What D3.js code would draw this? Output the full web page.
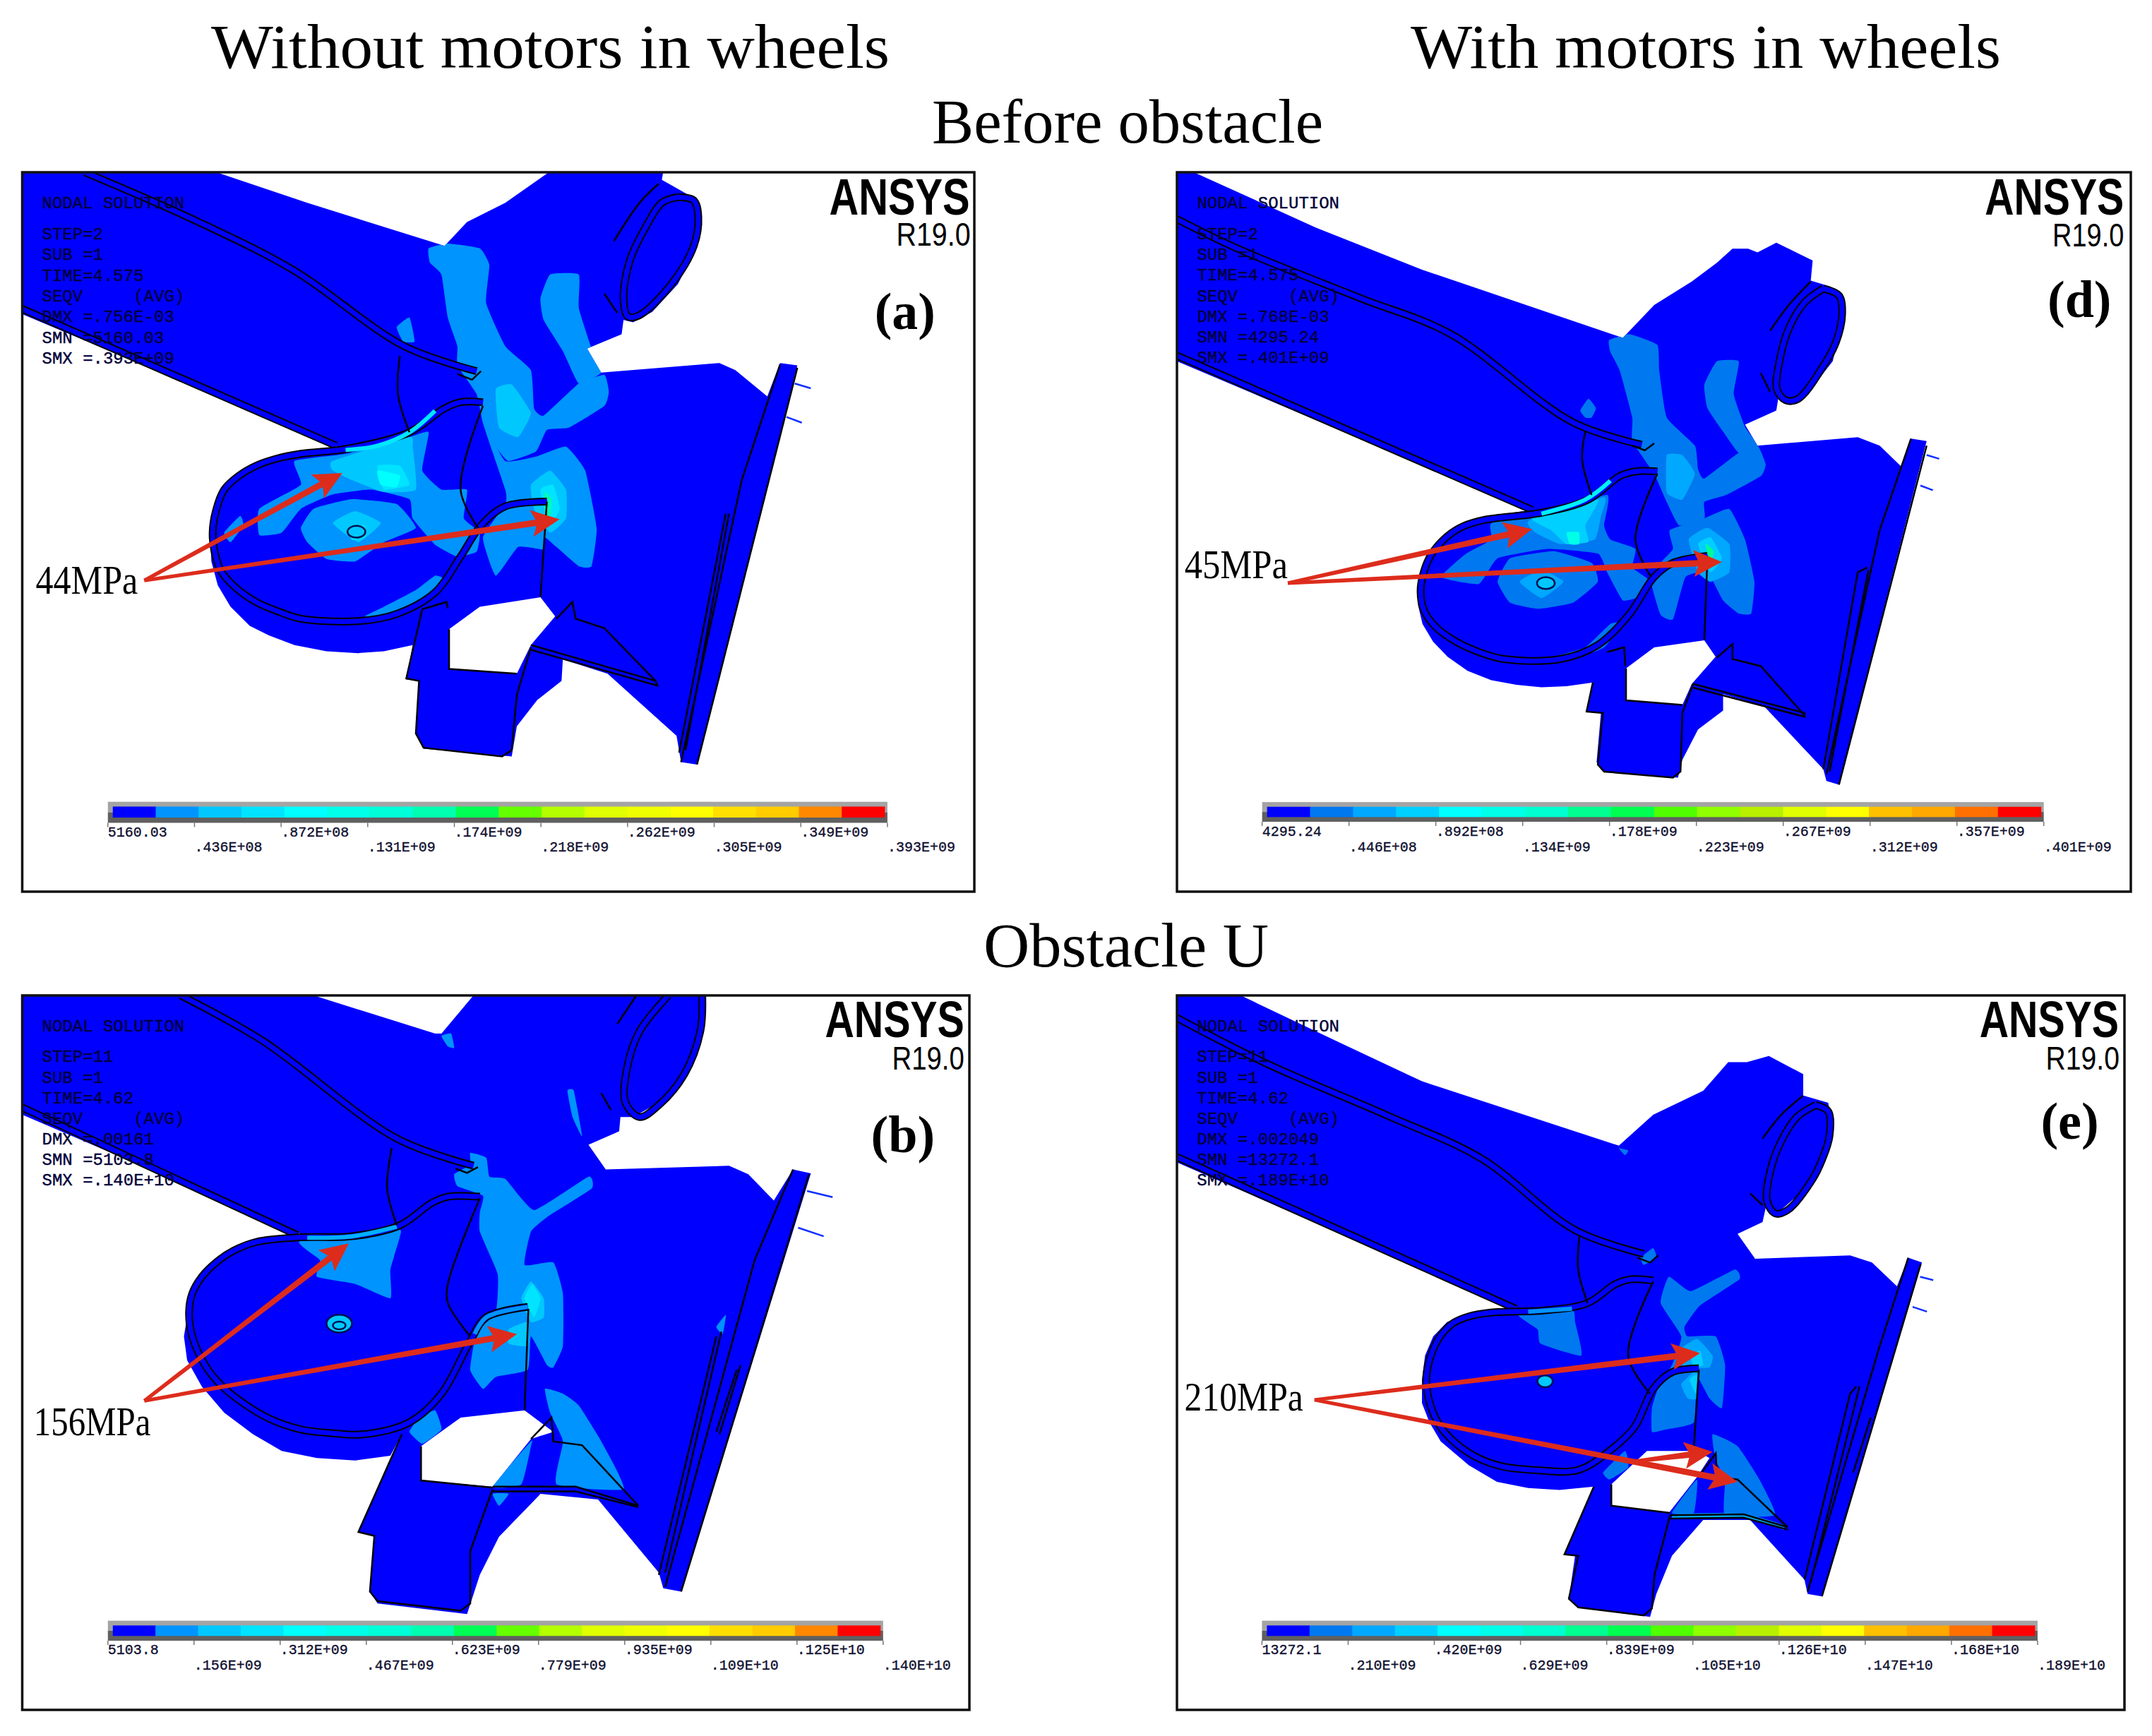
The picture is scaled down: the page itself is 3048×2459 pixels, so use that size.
<!DOCTYPE html>
<html>
<head>
<meta charset="utf-8">
<script src="https://cdn.jsdelivr.net/npm/d3@7"></script>
<style>
  html, body { margin: 0; padding: 0; background: #fff; }
  svg { display: block; }
</style>
</head>
<body>
<div id="chart"></div>
<script>
// legend
const legendColorsLeft = ["#0000ff","#0094ff","#00c8ff","#00e4ff","#00ffff","#00ffe8","#00ffd8","#00ffb0","#00ff55","#66ff00","#b4ff00","#e0ff00","#f0ff00","#ffff00","#ffdf00","#ffcc00","#ff8800","#ff0000"];
const legendColorsRight = ["#0000ff","#0078f0","#00a8ff","#00d0ff","#00ffff","#00ffe8","#00ffd0","#00ff90","#00ff50","#50ff00","#90ff00","#b8f000","#e0ff00","#ffff00","#ffc000","#ffa800","#ff7000","#ff0000"];
const aTicks = ["5160.03",".436E+08",".872E+08",".131E+09",".174E+09",".218E+09",".262E+09",".305E+09",".349E+09",".393E+09"];
const dTicks = ["4295.24",".446E+08",".892E+08",".134E+09",".178E+09",".223E+09",".267E+09",".312E+09",".357E+09",".401E+09"];
const bTicks = ["5103.8",".156E+09",".312E+09",".467E+09",".623E+09",".779E+09",".935E+09",".109E+10",".125E+10",".140E+10"];
const eTicks = ["13272.1",".210E+09",".420E+09",".629E+09",".839E+09",".105E+10",".126E+10",".147E+10",".168E+10",".189E+10"];

// solution text blocks
const aInfo = ["NODAL SOLUTION","STEP=2","SUB =1","TIME=4.575","SEQV     (AVG)","DMX =.756E-03","SMN =5160.03","SMX =.393E+09"];
const dInfo = ["NODAL SOLUTION","STEP=2","SUB =1","TIME=4.575","SEQV     (AVG)","DMX =.768E-03","SMN =4295.24","SMX =.401E+09"];
const bInfo = ["NODAL SOLUTION","STEP=11","SUB =1","TIME=4.62","SEQV     (AVG)","DMX =.00161","SMN =5103.8","SMX =.140E+10"];
const eInfo = ["NODAL SOLUTION","STEP=11","SUB =1","TIME=4.62","SEQV     (AVG)","DMX =.002049","SMN =13272.1","SMX =.189E+10"];

// panel a
const aBody = [[34,36],[338,36],[480,100],[695,190],[730,140],[790,100],[858,36],[1037,36],[1035,52],[1062,72],[1085,90],[1093,130],[1085,205],[1060,270],[1020,328],[990,350],[975,345],[972,375],[918,405],[940,455],[1125,435],[1150,450],[1200,505],[1220,435],[1247,440],[1090,1275],[1065,1270],[1058,1215],[950,1085],[880,1055],[878,1100],[840,1140],[808,1195],[800,1258],[662,1242],[650,1212],[655,1100],[635,1097],[645,1025],[600,1038],[560,1042],[510,1038],[460,1025],[420,1005],[390,985],[360,945],[340,900],[330,850],[328,790],[335,740],[350,700],[372,672],[400,650],[435,633],[470,625],[530,612],[34,333]];
const aHole = [[702,992],[750,945],[845,925],[868,965],[830,1025],[808,1085],[702,1075]];
const aBands = [
  [1,[[670,195],[700,185],[750,195],[765,230],[760,310],[790,400],[830,450],[835,530],[850,545],[905,478],[945,460],[952,495],[945,525],[890,570],[855,575],[838,620],[795,640],[775,610],[755,560],[745,500],[715,440],[715,400],[700,340],[690,250],[672,225]]],
  [1,[[845,300],[860,250],[905,250],[905,320],[925,405],[940,455],[905,478],[880,410],[850,345]]],
  [1,[[755,560],[790,640],[840,630],[885,610],[915,660],[933,780],[925,860],[905,860],[870,820],[852,800],[850,825],[810,820],[775,880],[755,800],[790,730],[790,700]]],
  [1,[[460,640],[540,625],[640,590],[670,580],[660,660],[690,700],[730,700],[725,760],[750,790],[745,830],[715,840],[680,815],[645,760],[640,720],[580,700],[520,710],[470,740],[440,790],[405,795],[405,740],[470,690]]],
  [1,[[470,780],[490,740],[550,720],[620,730],[650,780],[600,810],[555,850],[510,845],[480,810]]],
  [1,[[620,360],[640,340],[648,390],[630,390]]],
  [1,[[350,790],[375,755],[380,775],[360,810]]],
  [1,[[570,965],[600,945],[650,910],[680,880],[695,890],[650,950],[600,965]]],
  [2,[[520,640],[640,590],[645,610],[650,700],[600,705],[550,680],[520,660]]],
  [2,[[775,490],[800,480],[830,540],[810,590],[780,570]]],
  [2,[[830,690],[860,660],[885,700],[885,760],[860,790],[835,740]]],
  [2,[[520,770],[555,745],[595,770],[560,810]]],
  [3,[[590,650],[625,650],[640,690],[600,700]]],
  [3,[[545,780],[570,775],[570,800],[550,805]]],
  [3,[[845,700],[865,690],[875,740],[858,775]]],
  [4,[[590,660],[625,670],[620,695],[595,690]]],
  [7,[[852,705],[862,720],[860,760],[852,745]]]
];
const aDouble = [
  [[132,36],[310,140],[460,242],[632,400],[745,452]],
  [[34,322],[525,608]],
  [[755,517],[720,517],[695,530],[640,580],[540,615],[470,625],[430,636],[400,650],[372,672],[350,700],[337,745],[332,790],[335,830],[345,870],[368,905],[400,935],[435,955],[470,970],[560,975],[620,960],[680,915],[720,840],[752,775],[790,735],[855,725]],
  [[1060,88],[1085,95],[1092,130],[1085,190],[1050,270],[1000,335],[982,338],[975,300],[985,220],[1010,150],[1035,100],[1060,88]]
];
const aThin = [
  [[625,420],[622,500],[640,580]],
  [[755,525],[720,700],[750,785]],
  [[855,725],[845,925]],
  [[960,180],[1000,100],[1030,60]],
  [[945,290],[965,330]]
];
const aEdges = [
  [[715,458],[738,470],[752,452]],
  [[1220,438],[1160,680],[1065,1270]],
  [[1247,445],[1090,1275]],
  [[1135,750],[1062,1250]],
  [[1140,750],[1072,1245]],
  [[660,950],[635,1095],[655,1100],[650,1210],[662,1240],[785,1258],[800,1245],[808,1130],[830,1030]],
  [[660,950],[698,935],[700,948]],
  [[830,1025],[1025,1100],[1028,1110],[830,1035]],
  [[870,970],[895,935],[900,970],[945,990],[1025,1100]],
  [[702,992],[702,1075],[808,1085]]
];
const aGlow = [["#00e8ff",[[540,617],[590,608],[640,580],[680,535]]]];
const aStubs = [[[1243,478],[1268,488]],[[1230,548],[1254,560]]];
const aHub = [[557,788,14,12]];
const aArrows = [[[225,890],[535,665]],[[225,890],[875,762]]];

// panel d
const dBody = [[8,7],[35,7],[230,125],[400,215],[720,360],[770,290],[830,240],[870,200],[895,170],[920,170],[935,178],[965,157],[1000,180],[1023,195],[1020,238],[1050,250],[1068,275],[1070,330],[1055,410],[1020,470],[985,498],[968,490],[965,515],[915,545],[935,590],[1095,572],[1130,590],[1165,635],[1180,575],[1205,580],[1065,1313],[1045,1305],[1040,1280],[945,1145],[880,1120],[880,1155],[840,1195],[815,1260],[808,1298],[690,1285],[678,1265],[685,1160],[662,1157],[672,1095],[630,1103],[590,1105],[550,1100],[510,1090],[472,1070],[440,1040],[417,1008],[400,970],[393,930],[393,890],[403,850],[420,810],[442,780],[470,755],[515,738],[570,728],[8,410]];
const dHole = [[725,1065],[770,1020],[850,1005],[868,1040],[830,1098],[815,1143],[725,1133]];
const dBands = [
  [1,[[698,365],[730,352],[775,375],[778,430],[790,530],[835,590],[840,640],[850,660],[905,605],[935,590],[948,630],[940,655],[885,695],[850,710],[850,745],[810,760],[790,710],[770,650],[735,580],[735,530],[715,430],[700,390]]],
  [1,[[850,460],[870,410],[905,410],[897,480],[915,550],[935,590],[905,605],[880,560],[855,510]]],
  [1,[[850,745],[890,725],[915,790],[930,880],[925,948],[905,948],[880,920],[855,860],[820,870],[800,960],[780,950],[765,880],[780,840],[800,810],[795,770]]],
  [1,[[510,755],[590,735],[695,695],[690,760],[700,790],[740,810],[735,850],[760,875],[750,910],[720,920],[695,860],[680,820],[600,810],[520,830],[490,885],[430,870],[470,820],[510,790]]],
  [1,[[520,880],[540,830],[610,815],[670,840],[680,880],[640,925],[585,938],[540,925]]],
  [1,[[652,515],[665,490],[677,510],[670,530],[660,530]]],
  [1,[[610,1040],[660,1020],[700,970],[720,968],[690,1020],[640,1045]]],
  [2,[[570,750],[690,700],[685,740],[675,790],[620,800],[580,775]]],
  [2,[[790,610],[815,610],[835,650],[815,705],[790,690]]],
  [2,[[825,790],[855,765],[890,800],[890,860],[860,880],[840,860]]],
  [2,[[555,880],[590,855],[625,880],[590,915]]],
  [3,[[575,745],[680,705],[660,760],[665,795],[630,800],[605,770]]],
  [3,[[840,800],[860,785],[878,830],[860,860]]],
  [5,[[630,775],[650,775],[650,800],[635,800]]],
  [7,[[852,800],[865,815],[860,840]]]
];
const dDouble = [
  [[8,107],[100,167],[300,275],[445,352],[640,540],[750,588]],
  [[8,398],[575,727]],
  [[775,645],[740,645],[715,655],[665,705],[590,733],[500,748],[465,762],[440,783],[415,820],[402,860],[397,900],[402,940],[420,975],[450,1005],[490,1030],[530,1045],[620,1045],[680,1015],[730,950],[770,870],[800,840],[855,825]],
  [[1040,255],[1065,270],[1070,310],[1060,370],[1040,420],[1000,490],[980,493],[966,470],[970,410],[985,340],[1010,285],[1040,255]]
];
const dThin = [
  [[660,560],[655,620],[670,695]],
  [[775,650],[740,790],[765,870]],
  [[855,825],[850,1005]],
  [[955,345],[985,290],[1020,240]],
  [[940,435],[955,475]]
];
const dEdges = [
  [[735,590],[755,600],[770,585]],
  [[1180,575],[1130,770],[1045,1290]],
  [[1205,590],[1065,1313]],
  [[1110,850],[1095,860],[1040,1280]],
  [[1112,855],[1050,1285]],
  [[695,1030],[722,1020],[724,1060]],
  [[672,1095],[662,1157],[688,1160],[680,1270],[690,1285],[800,1298],[812,1285],[815,1160],[832,1098]],
  [[832,1098],[1010,1160],[1010,1168],[832,1106]],
  [[870,1042],[895,1013],[895,1045],[940,1060],[1010,1165]],
  [[725,1065],[725,1133],[815,1143]]
];
const dGlow = [["#00f0ff",[[590,735],[660,705],[700,665]]]];
const dStubs = [[[1205,610],[1225,618]],[[1195,675],[1215,685]]];
const dHub = [[597,883,14,12]];
const dArrows = [[[185,883],[575,768]],[[185,883],[878,838]]];

// panel b
const bBody = [[34,15],[490,15],[680,95],[690,95],[740,15],[1098,15],[1095,100],[1070,190],[1030,240],[990,270],[970,270],[968,300],[920,328],[947,380],[1140,372],[1170,390],[1210,445],[1240,380],[1268,388],[1065,1265],[1037,1258],[1030,1225],[935,1072],[845,1060],[780,1150],[750,1230],[730,1312],[590,1290],[578,1265],[585,1150],[560,1140],[628,935],[610,980],[555,990],[495,985],[440,970],[395,935],[350,890],[315,835],[292,780],[287,730],[295,665],[310,615],[340,570],[385,535],[430,522],[475,518],[34,265]];
const bHole = [[658,960],[720,900],[820,885],[865,930],[830,945],[770,1045],[658,1032]];
const bBands = [
  [1,[[468,530],[620,505],[625,520],[610,590],[610,650],[555,620],[495,605],[500,570]]],
  [1,[[735,345],[760,355],[765,395],[790,400],[835,465],[920,395],[925,420],[855,480],[830,510],[820,580],[865,575],[880,640],[880,750],[865,795],[855,790],[830,730],[825,800],[775,815],[755,840],[735,800],[745,720],[775,680],[778,600],[750,510],[750,470],[755,435],[715,415],[710,390],[735,370]]],
  [1,[[655,900],[680,885],[690,925],[660,955],[640,930]]],
  [1,[[852,840],[880,850],[905,875],[940,950],[975,1050],[870,1040],[880,950],[860,890]]],
  [1,[[830,950],[770,1045],[815,1040],[830,960]]],
  [1,[[770,1060],[795,1060],[780,1085]]],
  [1,[[887,215],[897,215],[910,310],[895,270]]],
  [1,[[690,100],[705,95],[710,125],[700,122]]],
  [1,[[1120,710],[1135,685],[1130,725]]],
  [2,[[815,650],[830,615],[850,650],[850,690],[830,700]]],
  [2,[[795,715],[825,700],[825,750],[795,745]]],
  [3,[[820,650],[832,620],[845,650],[835,690]]]
];
const bDouble = [
  [[282,15],[410,110],[620,315],[740,372]],
  [[34,250],[465,518]],
  [[750,437],[700,437],[675,450],[625,497],[550,520],[470,522],[400,532],[365,550],[340,572],[315,605],[300,640],[295,680],[300,730],[320,790],[345,832],[380,870],[420,902],[470,925],[520,933],[570,935],[640,910],[690,850],[735,740],[760,690],[825,668]],
  [[1045,15],[1000,90],[980,170],[978,240],[1000,270],[1030,245],[1070,180],[1095,90],[1098,15]]
];
const bThin = [
  [[612,335],[605,420],[620,497]],
  [[750,440],[700,620],[700,660],[735,730]],
  [[826,672],[820,885]],
  [[965,75],[995,15]],
  [[940,220],[955,255]]
];
const bEdges = [
  [[712,378],[730,387],[747,375]],
  [[1240,380],[1180,570],[1040,1255]],
  [[1265,390],[1065,1265]],
  [[1120,730],[1030,1230]],
  [[1128,720],[1040,1225]],
  [[1158,790],[1125,935]],
  [[1152,800],[1120,930]],
  [[628,935],[560,1140],[585,1148],[578,1265],[590,1285],[720,1305],[735,1290],[735,1180],[770,1050]],
  [[770,1045],[900,1045],[998,1085]],
  [[770,1055],[900,1055],[998,1088]],
  [[830,945],[862,900],[865,950],[910,958],[998,1085]],
  [[658,960],[658,1032],[770,1047]]
];
const bGlow = [["#00b0ff",[[480,523],[550,520],[620,500]]],["#0094ff",[[742,725],[760,690],[825,668]]]];
const bStubs = [[[1262,425],[1302,438]],[[1248,502],[1288,520]]];
const bHub = [[530,703,20,18],[530,707,10,8]];
const bArrows = [[[225,865],[545,535]],[[225,865],[808,725]]];

// panel e
const eBody = [[8,15],[110,15],[270,115],[400,195],[715,330],[770,265],[850,215],[890,155],[920,155],[955,142],[1010,180],[1010,225],[1050,240],[1055,280],[1040,370],[1005,430],[970,470],[950,460],[945,490],[905,515],[933,567],[1085,560],[1120,575],[1160,625],[1178,565],[1200,575],[1040,1275],[1017,1270],[1012,1240],[925,1115],[850,1115],[800,1190],[775,1270],[765,1318],[650,1298],[635,1280],[645,1190],[628,1187],[675,1045],[620,1052],[570,1048],[520,1035],[475,1000],[430,950],[412,910],[400,870],[400,820],[405,770],[418,730],[440,700],[475,682],[510,675],[545,672],[8,365]];
const eHole = [[703,1040],[760,970],[840,970],[860,985],[840,1025],[795,1100],[703,1085]];
const eBands = [
  [1,[[555,685],[640,675],[645,700],[655,770],[590,745],[585,715]]],
  [1,[[795,605],[830,635],[900,590],[908,610],[845,665],[820,710],[825,730],[870,730],[885,790],[880,880],[860,860],[840,815],[835,910],[790,925],[768,930],[768,880],[780,830],[800,790],[815,730],[782,660]]],
  [1,[[865,935],[905,960],[940,1030],[965,1105],[885,1105],[885,1030],[870,990]]],
  [1,[[800,1100],[840,1030],[835,1100]]],
  [1,[[690,1015],[725,970],[730,1005],[700,1030]]],
  [1,[[715,335],[730,340],[725,350]]],
  [1,[[750,565],[770,545],[775,565],[755,580]]],
  [2,[[810,760],[840,735],[865,770],[860,795],[820,795]]],
  [2,[[815,830],[840,800],[840,860],[825,860]]],
  [3,[[830,770],[845,760],[850,790],[835,795]]],
  [3,[[828,820],[840,810],[838,850]]]
];
const eDouble = [
  [[8,62],[150,157],[345,267],[495,357],[645,507],[755,557]],
  [[8,354],[550,672]],
  [[770,613],[735,610],[710,620],[665,660],[600,675],[510,680],[475,688],[450,702],[430,728],[417,760],[409,795],[407,830],[415,880],[430,920],[455,955],[490,985],[530,1003],[580,1010],[650,1010],[700,970],[740,920],[770,840],[800,805],[843,797]],
  [[1030,245],[1050,258],[1052,310],[1040,360],[1025,400],[985,465],[965,472],[952,445],[958,380],[975,320],[1000,270],[1030,245]]
];
const eThin = [
  [[652,520],[650,590],[665,660]],
  [[770,615],[730,770],[765,850]],
  [[843,800],[835,965]],
  [[945,315],[975,265],[1010,225]],
  [[925,430],[945,455]]
];
const eEdges = [
  [[745,565],[765,575],[778,560]],
  [[1178,565],[1130,760],[1017,1265]],
  [[1198,578],[1040,1275]],
  [[1095,835],[1085,850],[1012,1240]],
  [[1100,835],[1022,1245]],
  [[1118,900],[1090,1015]],
  [[675,1045],[628,1187],[650,1190],[635,1280],[650,1298],[755,1315],[768,1300],[772,1230],[797,1105]],
  [[797,1105],[915,1103],[985,1130]],
  [[797,1112],[915,1110],[985,1135]],
  [[845,1020],[870,975],[872,1025],[905,1030],[985,1130]],
  [[703,1040],[703,1085],[797,1100]]
];
const eGlow = [["#0094ff",[[570,678],[640,672]]],["#00b0ff",[[800,1108],[915,1107],[980,1131]]]];
const eStubs = [[[1197,605],[1218,612]],[[1185,668],[1208,678]]];
const eHub = [[597,824,12,12]];
const eArrows = [[[228,863],[845,765]],[[228,863],[905,1035]],[[740,992],[865,972]]];

const width = 3048, height = 2459;
const svg = d3.select("#chart").append("svg")
    .attr("width", width)
    .attr("height", height);
svg.append("rect").attr("width", width).attr("height", height).attr("fill", "#fff");

// headings
const headings = [
  ["Without motors in wheels", 299, 1260, 96],
  ["With motors in wheels", 1998, 2834, 96],
  ["Before obstacle", 1320, 1874, 202],
  ["Obstacle U", 1393, 1797, 1369]
];
svg.selectAll("text.heading").data(headings).enter().append("text")
    .attr("class", "heading")
    .attr("x", d => d[1])
    .attr("y", d => d[3])
    .attr("textLength", d => d[2] - d[1])
    .attr("lengthAdjust", "spacingAndGlyphs")
    .attr("font-family", "Liberation Serif")
    .attr("font-size", 88)
    .attr("fill", "#000")
    .text(d => d[0]);

// one panel; zoomX/zoomY are the frame edges in the coordinates the shapes were read in
function drawPanel(p) {
  const x = d3.scaleLinear().domain(p.zoomX).range(p.pageX);
  const y = d3.scaleLinear().domain(p.zoomY).range(p.pageY);
  const straight = d3.line().x(d => x(d[0])).y(d => y(d[1]));
  const smooth = d3.line().x(d => x(d[0])).y(d => y(d[1])).curve(d3.curveCatmullRom.alpha(0.5));
  const blob = d3.line().x(d => x(d[0])).y(d => y(d[1])).curve(d3.curveCardinalClosed.tension(0.6));
  const g = svg.append("g");

  const clipId = "clip-" + p.id;
  const solid = straight(p.body) + "Z" + straight(p.hole) + "Z";
  g.append("clipPath").attr("id", clipId).append("path").attr("d", solid).attr("clip-rule", "evenodd");

  const frameClip = "frame-" + p.id;
  g.append("clipPath").attr("id", frameClip).append("rect")
      .attr("x", p.pageX[0]).attr("y", p.pageY[0])
      .attr("width", p.pageX[1] - p.pageX[0]).attr("height", p.pageY[1] - p.pageY[0]);

  const part = g.append("g").attr("clip-path", `url(#${frameClip})`);
  part.append("path").attr("d", solid).attr("fill", "#0000ff").attr("fill-rule", "evenodd");

  // stress contours
  part.append("g").attr("clip-path", `url(#${clipId})`)
    .selectAll("path").data(p.bands).enter().append("path")
      .attr("d", d => blob(d[1]))
      .attr("fill", d => p.colors[d[0]]);

  // double walled edges
  p.doubles.forEach(line => {
    part.append("path").attr("d", smooth(line)).attr("fill", "none").attr("stroke", "#000").attr("stroke-width", 11);
    part.append("path").attr("d", smooth(line)).attr("fill", "none").attr("stroke", "#0000ff").attr("stroke-width", 7);
  });
  p.glow.forEach(d => {
    part.append("path").attr("d", smooth(d[1])).attr("fill", "none").attr("stroke", d[0]).attr("stroke-width", 6);
  });
  part.selectAll("path.thin").data(p.thin).enter().append("path")
      .attr("class", "thin").attr("d", smooth)
      .attr("fill", "none").attr("stroke", "#000").attr("stroke-width", 2.5);
  part.selectAll("path.edge").data(p.edges).enter().append("path")
      .attr("class", "edge").attr("d", straight)
      .attr("fill", "none").attr("stroke", "#000").attr("stroke-width", 2.5);
  part.selectAll("path.stub").data(p.stubs).enter().append("path")
      .attr("class", "stub").attr("d", straight)
      .attr("fill", "none").attr("stroke", "#1030ff").attr("stroke-width", 2.5);
  part.selectAll("ellipse").data(p.hub).enter().append("ellipse")
      .attr("cx", d => x(d[0])).attr("cy", d => y(d[1]))
      .attr("rx", d => d[2] * 0.9).attr("ry", d => d[3] * 0.7)
      .attr("fill", "#00c8ff").attr("stroke", "#001050").attr("stroke-width", 2.5);

  // solution block
  g.selectAll("text.info").data(p.info).enter().append("text")
      .attr("class", "info")
      .attr("x", x(p.infoX))
      .attr("y", (d, i) => y(p.infoY[i]) + 8)
      .attr("font-family", "Liberation Mono")
      .attr("font-size", 24)
      .attr("fill", "#000038")
      .attr("stroke", "#000038")
      .attr("stroke-width", 0.4)
      .style("white-space", "pre")
      .text(d => d);

  // legend bar
  const bar = d3.scaleBand().domain(d3.range(p.colors.length)).range([x(p.legendX[0]) + 7, x(p.legendX[1]) - 4]);
  const tick = d3.scalePoint().domain(p.ticks).range([x(p.legendX[0]), x(p.legendX[1])]);
  const barTop = y(p.legendY[0]), barBottom = y(p.legendY[3]);
  g.append("rect").attr("x", x(p.legendX[0])).attr("y", barTop)
      .attr("width", x(p.legendX[1]) - x(p.legendX[0])).attr("height", (barBottom - barTop) / 2).attr("fill", "#a4a4a4");
  g.append("rect").attr("x", x(p.legendX[0])).attr("y", (barTop + barBottom) / 2)
      .attr("width", x(p.legendX[1]) - x(p.legendX[0])).attr("height", (barBottom - barTop) / 2).attr("fill", "#606060");
  g.selectAll("rect.cell").data(p.colors).enter().append("rect")
      .attr("class", "cell")
      .attr("x", (d, i) => bar(i))
      .attr("y", y(p.legendY[1]))
      .attr("width", bar.bandwidth() + 0.5)
      .attr("height", y(p.legendY[2]) - y(p.legendY[1]))
      .attr("fill", d => d);
  g.selectAll("line.tick").data(p.ticks).enter().append("line")
      .attr("class", "tick")
      .attr("x1", d => tick(d)).attr("x2", d => tick(d))
      .attr("y1", barBottom).attr("y2", barBottom + 6)
      .attr("stroke", "#777").attr("stroke-width", 1.5);
  g.selectAll("text.tick").data(p.ticks).enter().append("text")
      .attr("class", "tick")
      .attr("x", d => tick(d))
      .attr("y", (d, i) => y(p.legendRows[i % 2]) + 7)
      .attr("font-family", "Liberation Mono")
      .attr("font-size", 20)
      .attr("fill", "#101030")
      .attr("stroke", "#101030")
      .attr("stroke-width", 0.35)
      .text(d => d);

  // ANSYS stamp and panel letter
  const stamp = [
    ["ANSYS", p.ansys, "Liberation Sans Narrow, Liberation Sans", "bold", 72],
    ["R19.0", p.release, "Liberation Sans Narrow, Liberation Sans", "normal", 46],
    [p.letter, p.letterPos, "Liberation Serif", "bold", 74],
    [p.stress, p.stressPos, "Liberation Serif", "normal", 56]
  ];
  g.selectAll("text.stamp").data(stamp).enter().append("text")
      .attr("class", "stamp")
      .attr("x", d => x(d[1][0]))
      .attr("y", d => y(d[1][2]))
      .attr("textLength", d => x(d[1][1]) - x(d[1][0]))
      .attr("lengthAdjust", "spacingAndGlyphs")
      .attr("font-family", d => d[2])
      .attr("font-weight", d => d[3])
      .attr("font-size", d => d[4])
      .attr("fill", "#000")
      .text(d => d[0]);

  // red arrows, thin at the tail and fat at the head
  g.selectAll("path.arrow").data(p.arrows).enter().append("path")
      .attr("class", "arrow")
      .attr("fill", "#dd2c1c")
      .attr("d", d => {
        const x0 = x(d[0][0]), y0 = y(d[0][1]), x1 = x(d[1][0]), y1 = y(d[1][1]);
        const len = Math.hypot(x1 - x0, y1 - y0);
        const ux = (x1 - x0) / len, uy = (y1 - y0) / len, nx = -uy, ny = ux;
        const hx = x1 - ux * 40, hy = y1 - uy * 40;
        const nk = 34;
        return `M${x0 + nx * 2.5},${y0 + ny * 2.5}L${x1 - ux * nk + nx * 4.5},${y1 - uy * nk + ny * 4.5}L${hx + nx * 19},${hy + ny * 19}L${x1},${y1}L${hx - nx * 19},${hy - ny * 19}L${x1 - ux * nk - nx * 4.5},${y1 - uy * nk - ny * 4.5}L${x0 - nx * 2.5},${y0 - ny * 2.5}Z`;
      });

  g.append("rect")
      .attr("x", p.pageX[0]).attr("y", p.pageY[0])
      .attr("width", p.pageX[1] - p.pageX[0]).attr("height", p.pageY[1] - p.pageY[0])
      .attr("fill", "none").attr("stroke", "#111").attr("stroke-width", 3.5);
}

const infoRowsTop = [100,165,208,251,295,338,381,424];
const infoRowsD = [71,138,182,226,270,314,358,402];
const infoRowsLow = [79,143,186,230,273,316,358,401];

[
  { id: "a", zoomX: [34,1524], zoomY: [36,1541], pageX: [31.5,1380], pageY: [244,1263],
    body: aBody, hole: aHole, bands: aBands, doubles: aDouble, thin: aThin, edges: aEdges, glow: aGlow, stubs: aStubs, hub: aHub, arrows: aArrows,
    colors: legendColorsLeft, ticks: aTicks, info: aInfo, infoX: 65, infoY: infoRowsTop,
    legendX: [168,1388], legendY: [1353,1363,1386,1397], legendRows: [1415,1447],
    ansys: [1297,1517,125], release: [1402,1518,190], letter: "(a)", letterPos: [1368,1463,364], stress: "44MPa", stressPos: [55,215,918] },
  { id: "d", zoomX: [8,1531], zoomY: [7,1541], pageX: [1667,3018], pageY: [244,1263],
    body: dBody, hole: dHole, bands: dBands, doubles: dDouble, thin: dThin, edges: dEdges, glow: dGlow, stubs: dStubs, hub: dHub, arrows: dArrows,
    colors: legendColorsRight, ticks: dTicks, info: dInfo, infoX: 40, infoY: infoRowsD,
    legendX: [144,1392], legendY: [1350,1360,1382,1392], legendRows: [1412,1445],
    ansys: [1298,1520,98], release: [1406,1520,165], letter: "(d)", letterPos: [1398,1500,316], stress: "45MPa", stressPos: [20,185,872] },
  { id: "b", zoomX: [34,1516], zoomY: [15,1513], pageX: [31.5,1373], pageY: [1410,2422],
    body: bBody, hole: bHole, bands: bBands, doubles: bDouble, thin: bThin, edges: bEdges, glow: bGlow, stubs: bStubs, hub: bHub, arrows: bArrows,
    colors: legendColorsLeft, ticks: bTicks, info: bInfo, infoX: 65, infoY: infoRowsLow,
    legendX: [168,1381], legendY: [1326,1336,1358,1368], legendRows: [1386,1419],
    ansys: [1290,1508,103], release: [1395,1508,170], letter: "(b)", letterPos: [1362,1462,344], stress: "156MPa", stressPos: [52,235,937] },
  { id: "e", zoomX: [8,1524], zoomY: [15,1513], pageX: [1667,3009], pageY: [1410,2422],
    body: eBody, hole: eHole, bands: eBands, doubles: eDouble, thin: eThin, edges: eEdges, glow: eGlow, stubs: eStubs, hub: eHub, arrows: eArrows,
    colors: legendColorsRight, ticks: eTicks, info: eInfo, infoX: 40, infoY: infoRowsLow,
    legendX: [144,1385], legendY: [1326,1336,1358,1368], legendRows: [1386,1419],
    ansys: [1292,1515,103], release: [1398,1516,170], letter: "(e)", letterPos: [1390,1483,316], stress: "210MPa", stressPos: [20,210,886] }
].forEach(drawPanel);
</script>
</body>
</html>
